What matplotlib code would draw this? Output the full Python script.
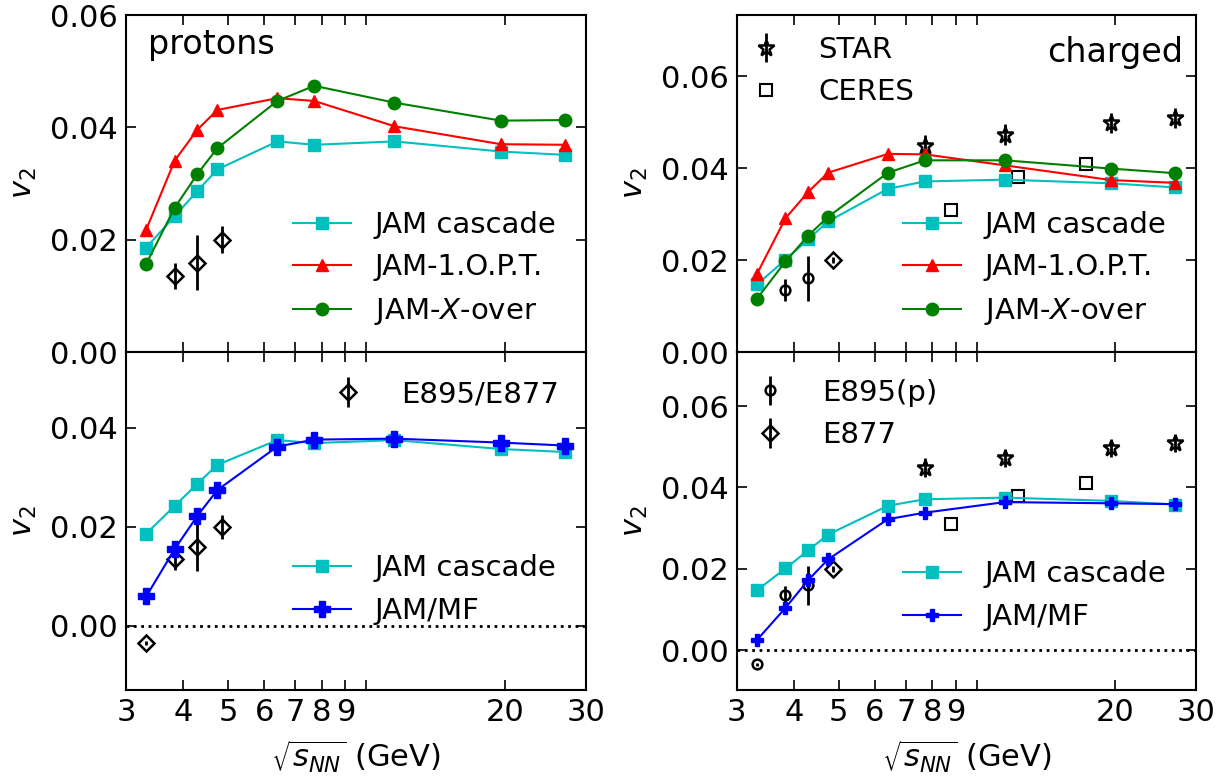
import numpy as np
import matplotlib
matplotlib.use("Agg")
import matplotlib.pyplot as plt

# collision energies (GeV)
energy = [3.32, 3.83, 4.29, 4.74, 6.4, 7.7, 11.5, 19.6, 27.0]

# protons, model curves
p_cascade = [0.0186, 0.0242, 0.0287, 0.0325, 0.0375, 0.0369, 0.0375, 0.0357, 0.0351]
p_opt = [0.0218, 0.0341, 0.0396, 0.0431, 0.0452, 0.0447, 0.0402, 0.0370, 0.0369]
p_xover = [0.0157, 0.0257, 0.0317, 0.0363, 0.0447, 0.0474, 0.0444, 0.0412, 0.0413]
p_mf = [0.0059, 0.0155, 0.0222, 0.0274, 0.0362, 0.0376, 0.0378, 0.0370, 0.0364]

# charged, model curves
c_cascade = [0.0147, 0.0201, 0.0245, 0.0284, 0.0355, 0.0371, 0.0375, 0.0367, 0.0358]
c_opt = [0.0170, 0.0291, 0.0348, 0.0390, 0.0431, 0.0430, 0.0406, 0.0374, 0.0368]
c_xover = [0.0116, 0.0197, 0.0253, 0.0294, 0.0390, 0.0417, 0.0417, 0.0399, 0.0389]
c_mf = [0.0025, 0.0104, 0.0172, 0.0223, 0.0322, 0.0338, 0.0364, 0.0361, 0.0359]

# E895/E877 data (protons)
e_energy = [3.32, 3.83, 4.29, 4.86]
e_v2 = [-0.0036, 0.0135, 0.0159, 0.0200]
e_err = [0.0004, 0.0023, 0.0049, 0.0024]

# E895(p) and E877 used in the charged panels
e895_energy = [3.32, 3.83, 4.29]
e895_v2 = [-0.0035, 0.0135, 0.0160]
e895_err = [0.0004, 0.0023, 0.0048]
e877_energy = [4.86]
e877_v2 = [0.0200]
e877_err = [0.0007]

# STAR and CERES charged hadrons
star_energy = [7.7, 11.5, 19.6, 27.0]
star_v2 = [0.0449, 0.0473, 0.0498, 0.0509]
star_err = [0.0023, 0.0022, 0.0022, 0.0022]
ceres_energy = [8.8, 12.3, 17.3]
ceres_v2 = [0.0310, 0.0380, 0.0410]

xticks = [3, 4, 5, 6, 7, 8, 9, 10, 20, 30]
xticklabels = ["3", "4", "5", "6", "7", "8", "9", "", "20", "30"]

FS = 22
LFS = 21
plt.rcParams["font.size"] = FS
plt.rcParams["mathtext.fontset"] = "dejavusans"

fig = plt.figure(figsize=(12.3, 7.83), dpi=100)
ax_tl = fig.add_axes([0.1024, 0.5504, 0.374, 0.4304])
ax_bl = fig.add_axes([0.1024, 0.1188, 0.374, 0.4316])
ax_tr = fig.add_axes([0.5990, 0.5504, 0.3734, 0.4304])
ax_br = fig.add_axes([0.5990, 0.1188, 0.3734, 0.4316])


def style(ax, ylim, yticks, show_x):
    ax.set_xscale("log")
    ax.set_xlim(3, 30)
    ax.set_ylim(*ylim)
    ax.set_xticks(xticks)
    ax.set_xticklabels(xticklabels if show_x else [])
    ax.xaxis.set_minor_locator(matplotlib.ticker.NullLocator())
    ax.set_yticks(yticks)
    ax.set_yticklabels([f"{t:.2f}" for t in yticks])
    ax.tick_params(direction="in", top=True, right=True, length=7, width=1.2,
                   labelsize=FS, pad=6)
    for s in ax.spines.values():
        s.set_linewidth(1.5)
    ax.set_ylabel(r"$v_2$", fontsize=FS, labelpad=8)
    if show_x:
        ax.set_xlabel(r"$\sqrt{s_{NN}}$ (GeV)", fontsize=FS, labelpad=8)


def model(ax, y, color, marker, label, ms):
    return ax.plot(energy, y, color=color, marker=marker, ms=ms, lw=1.5,
                   label=label, zorder=3)[0]


def legend(ax, handles, loc, anchor):
    return ax.legend(handles=handles, loc=loc, bbox_to_anchor=anchor,
                     frameon=False, fontsize=LFS, borderaxespad=0)


err_kw = dict(color="k", mfc="none", ls="none", elinewidth=2, capsize=0, zorder=2)

# ---- protons, top
style(ax_tl, (0, 0.06), [0, 0.02, 0.04, 0.06], False)
h1 = model(ax_tl, p_cascade, "c", "s", "JAM cascade", 8.5)
h2 = model(ax_tl, p_opt, "r", "^", "JAM-1.O.P.T.", 9)
h3 = model(ax_tl, p_xover, "g", "o", r"JAM-$X$-over", 9)
ax_tl.errorbar(e_energy[1:], e_v2[1:], yerr=e_err[1:], marker="D", ms=8, mew=1.8, **err_kw)
ax_tl.text(0.048, 0.883, "protons", transform=ax_tl.transAxes, fontsize=24,
           va="baseline")
legend(ax_tl, [h1, h2, h3], "lower left", (0.337, 0.040))

# ---- protons, bottom
style(ax_bl, (-0.013, 0.0553), [0, 0.02, 0.04], True)
ax_bl.axhline(0, color="k", ls=":", lw=2, zorder=1)
h4 = model(ax_bl, p_cascade, "c", "s", "JAM cascade", 8.5)
h5 = model(ax_bl, p_mf, "b", "P", "JAM/MF", 11)
he = ax_bl.errorbar(e_energy, e_v2, yerr=e_err, marker="D", ms=8, mew=1.8,
                    label="E895/E877", **err_kw)
ax_bl.add_artist(legend(ax_bl, [he], "upper right", (0.966, 0.951)))
legend(ax_bl, [h4, h5], "lower left", (0.337, 0.158))

# ---- charged, top
style(ax_tr, (0, 0.0733), [0, 0.02, 0.04, 0.06], False)
g1 = model(ax_tr, c_cascade, "c", "s", "JAM cascade", 8.5)
g2 = model(ax_tr, c_opt, "r", "^", "JAM-1.O.P.T.", 9)
g3 = model(ax_tr, c_xover, "g", "o", r"JAM-$X$-over", 9)
ax_tr.errorbar(e895_energy[1:], e895_v2[1:], yerr=e895_err[1:], marker="o", ms=7,
               mew=1.8, **err_kw)
ax_tr.errorbar(e877_energy, e877_v2, yerr=e877_err, marker="D", ms=8, mew=1.8, **err_kw)
hs = ax_tr.errorbar(star_energy, star_v2, yerr=star_err, marker="*", ms=12, mew=1.8,
                    label="STAR", **err_kw)
hc, = ax_tr.plot(ceres_energy, ceres_v2, ls="none", marker="s", ms=8, mfc="none",
                 mec="k", mew=1.5, label="CERES", zorder=2)
ax_tr.text(0.972, 0.861, "charged", transform=ax_tr.transAxes, fontsize=24,
           va="baseline", ha="right")
lg = legend(ax_tr, [hs, hc], "upper left", (-0.026, 0.973))
ax_tr.add_artist(lg)
legend(ax_tr, [g1, g2, g3], "lower left", (0.336, 0.040))

# ---- charged, bottom
style(ax_br, (-0.0098, 0.0733), [0, 0.02, 0.04, 0.06], True)
ax_br.axhline(0, color="k", ls=":", lw=2, zorder=1)
g4 = model(ax_br, c_cascade, "c", "s", "JAM cascade", 8.5)
g5 = model(ax_br, c_mf, "b", "P", "JAM/MF", 9)
hp = ax_br.errorbar(e895_energy, e895_v2, yerr=e895_err, marker="o", ms=7, mew=1.8,
                    label="E895(p)", **err_kw)
hd = ax_br.errorbar(e877_energy, e877_v2, yerr=e877_err, marker="D", ms=8, mew=1.8,
                    label="E877", **err_kw)
ax_br.errorbar(star_energy, star_v2, yerr=star_err, marker="*", ms=12, mew=1.8, **err_kw)
ax_br.plot(ceres_energy, ceres_v2, ls="none", marker="s", ms=8, mfc="none",
           mec="k", mew=1.5, zorder=2)
ax_br.add_artist(legend(ax_br, [hp, hd], "upper left", (-0.0174, 0.956)))
legend(ax_br, [g4, g5], "lower left", (0.336, 0.1405))

fig.savefig("out.png", dpi=100)
